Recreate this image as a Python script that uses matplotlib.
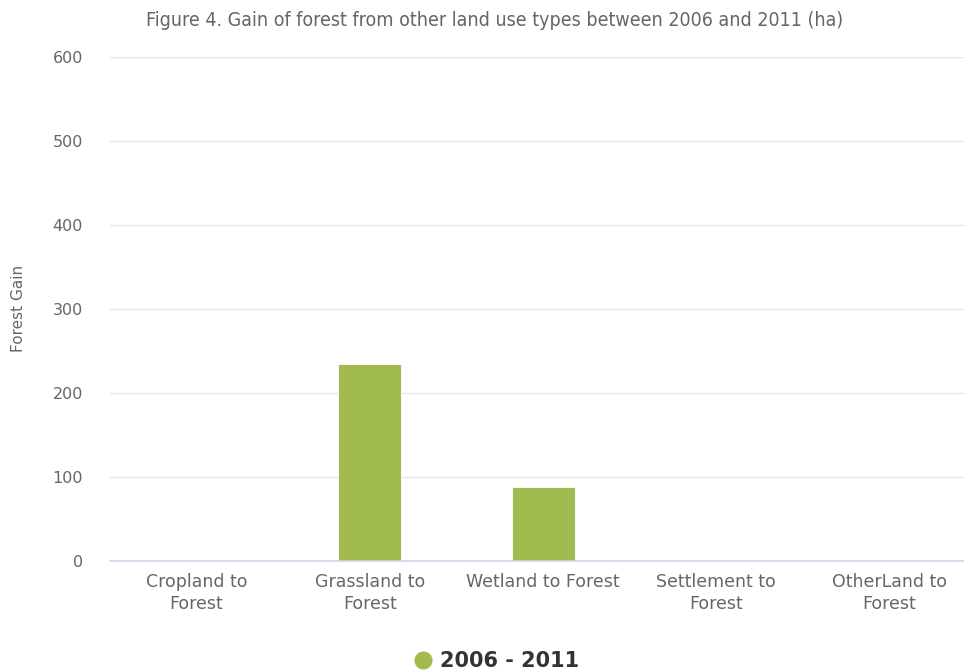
import matplotlib
matplotlib.use("Agg")
import matplotlib.pyplot as plt
from matplotlib.lines import Line2D

categories = ["Cropland to\nForest", "Grassland to\nForest", "Wetland to Forest",
              "Settlement to\nForest", "OtherLand to\nForest"]
gain = [0, 234, 88, 0, 0]
series_name = "2006 - 2011"
yticks = [0, 100, 200, 300, 400, 500, 600]

fig = plt.figure(figsize=(9.64, 6.71), dpi=100)
ax = fig.add_axes([110 / 964, 1 - 560.7 / 671, 854 / 964, (560.7 - 57) / 671])

bar_color = "#a1bb50"
x = list(range(len(categories)))
ax.bar(x, gain, width=0.364, color=bar_color, edgecolor="white", linewidth=0.6, zorder=3)

ax.set_xlim(-0.5, 4.43)
ax.set_ylim(0, 600)
ax.set_yticks(yticks)
ax.set_yticklabels([str(t) for t in yticks], fontsize=11.5, color="#666666",
                   family="DejaVu Sans")
ax.tick_params(axis="y", length=0, pad=19.5)
ax.set_xticks(x)
ax.set_xticklabels(categories, fontsize=12.5, color="#666666", family="DejaVu Sans",
                   linespacing=1.25)
ax.tick_params(axis="x", length=0, pad=9)

ax.grid(axis="y", color="#e6e6e6", linewidth=1, zorder=0)
for s in ["top", "right", "left"]:
    ax.spines[s].set_visible(False)
ax.spines["bottom"].set_color("#ccd6eb")
ax.spines["bottom"].set_linewidth(1.2)
ax.spines["bottom"].set_zorder(4)

ax.set_ylabel("Forest Gain", fontsize=11, color="#666666", family="DejaVu Sans", labelpad=19)

fig.text(495 / 964, 1 - 21 / 671, "Figure 4. Gain of forest from other land use types between 2006 and 2011 (ha)",
         ha="center", va="center", fontsize=14, color="#666666", family="DejaVu Sans",
         fontstretch="condensed")

handle = Line2D([], [], marker="o", linestyle="none", markersize=12,
                markerfacecolor=bar_color, markeredgecolor=bar_color)
fig.legend([handle], [series_name], loc="center", bbox_to_anchor=(495 / 964, 1 - 661 / 671),
           frameon=False, handletextpad=0.2, handlelength=1.2,
           prop={"family": "DejaVu Sans", "size": 15, "weight": "bold"}, labelcolor="#333333")

fig.savefig("out.png", dpi=100)
